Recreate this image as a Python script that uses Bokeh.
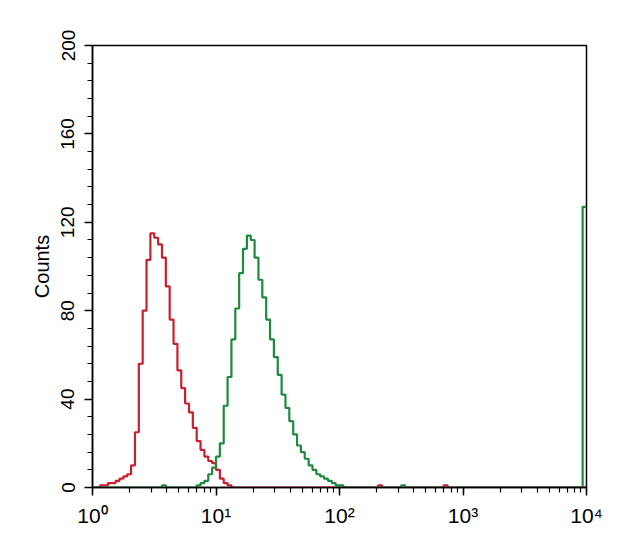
import numpy as np
from bokeh.plotting import figure
from bokeh.models import Range1d, SingleIntervalTicker, LogTicker
from bokeh.embed import file_html
from bokeh.resources import INLINE

# ---- data (histogram channels, 32 channels per decade, 4 decades) ----
CHANNELS_PER_DECADE = 32
N_CHANNELS = 128

red_first_channel = 2
red_counts = [1, 1, 2, 2, 3, 4, 5, 6, 10, 25, 56, 80, 103, 115, 113, 110, 104, 91,
              76, 65, 53, 45, 38, 34, 27, 21, 17, 14, 12, 11, 8, 4, 2, 1, 0]
red_speck_channels = [74, 91]
red_speck_counts = [1, 1]

green_first_channel = 27
green_counts = [1, 2, 3, 6, 9, 14, 20, 37, 50, 67, 81, 97, 108, 114, 112, 104, 94,
                86, 76, 67, 59, 51, 42, 36, 30, 24, 19, 16, 13, 10, 8, 6, 5, 4, 3,
                2, 1, 1, 0]
green_speck_channels = [18, 80, 127]
green_speck_counts = [1, 1, 127]

x_tick_exponents = [0, 1, 2, 3, 4]
x_tick_labels = ["10\u2070", "10\u00b9", "10\u00b2", "10\u00b3", "10\u2074"]

y_min, y_max, y_major_step = 0, 200, 40

FONT = "Liberation Sans"


def histogram(first, counts, speck_ch, speck_vals):
    h = np.zeros(N_CHANNELS)
    h[first:first + len(counts)] = counts
    h[speck_ch] = speck_vals
    edges = 10.0 ** (np.arange(N_CHANNELS + 1) / CHANNELS_PER_DECADE)
    return edges, np.append(h, h[-1])


p = figure(width=616, height=542, x_axis_type="log",
           x_range=Range1d(1, 1e4), y_range=Range1d(y_min, y_max),
           output_backend="svg", toolbar_location=None,
           min_border_left=92, min_border_right=30,
           min_border_top=45, min_border_bottom=55)
p.background_fill_color = "white"
p.border_fill_color = "white"
p.xgrid.visible = False
p.ygrid.visible = False
p.outline_line_color = "black"
p.outline_line_width = 1.5
p.outline_line_alpha = 1.0

rx, ry = histogram(red_first_channel, red_counts, red_speck_channels, red_speck_counts)
gx, gy = histogram(green_first_channel, green_counts, green_speck_channels, green_speck_counts)
p.step(rx, ry, mode="after", line_color="#c8202c", line_width=2.2)
p.step(gx, gy, mode="after", line_color="#1f8a3e", line_width=2.2)

# axes
for ax in (p.xaxis, p.yaxis):
    ax.axis_line_width = 1.5
    ax.axis_line_color = "black"
    ax.major_tick_line_width = 1.5
    ax.minor_tick_line_width = 1.2
    ax.major_tick_line_color = "black"
    ax.minor_tick_line_color = "black"
    ax.major_tick_out = 8
    ax.major_tick_in = 0
    ax.minor_tick_out = 5
    ax.minor_tick_in = 0
    ax.major_label_text_font = FONT
    ax.major_label_text_color = "black"

p.yaxis.ticker = SingleIntervalTicker(interval=y_major_step, num_minor_ticks=5)
p.yaxis.axis_label = "Counts"
p.yaxis.axis_label_text_font = FONT
p.yaxis.axis_label_text_font_style = "normal"
p.yaxis.axis_label_text_font_size = "20px"
p.yaxis.axis_label_text_color = "black"
p.yaxis.axis_label_standoff = 6
p.yaxis.major_label_orientation = "vertical"
p.yaxis.major_label_text_font_size = "19px"
p.yaxis.major_label_standoff = 10

p.xaxis.ticker = LogTicker(num_minor_ticks=10, desired_num_ticks=5)
p.xaxis.major_label_text_font_size = "21px"
p.xaxis.major_label_standoff = 8
p.xaxis.major_label_overrides = {10.0 ** e: lab for e, lab in zip(x_tick_exponents, x_tick_labels)}

open("out.html", "w").write(file_html(p, INLINE))
